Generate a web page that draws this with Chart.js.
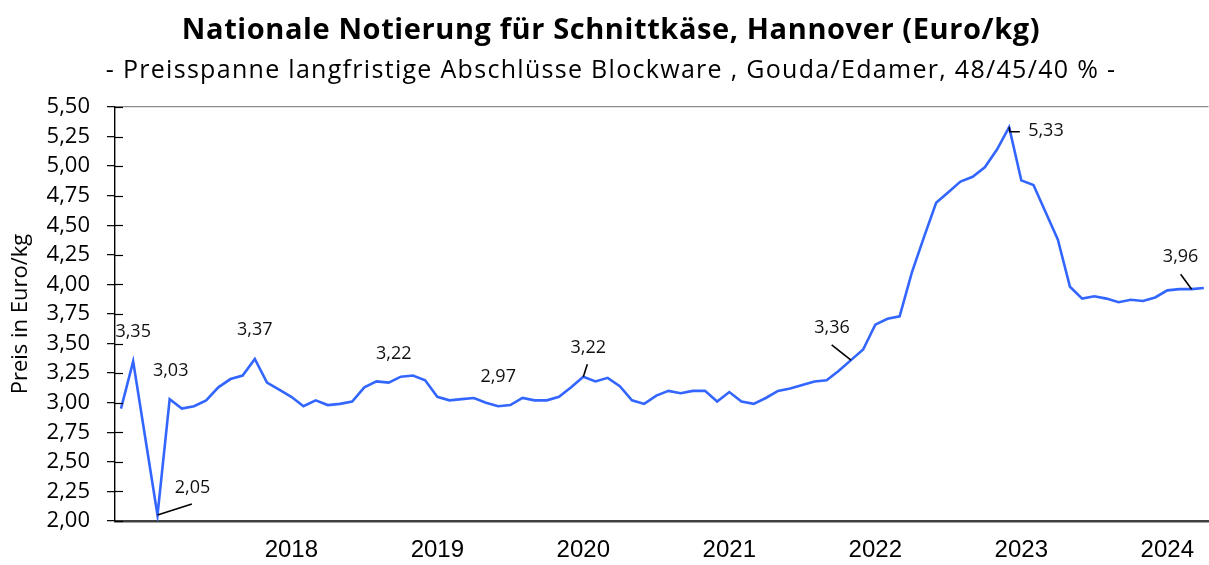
<!DOCTYPE html>
<html>
<head>
<meta charset="utf-8">
<script src="https://cdn.jsdelivr.net/npm/chart.js@4.4.1/dist/chart.umd.min.js"></script>
<style>
  html, body { margin: 0; padding: 0; background: #ffffff; }
  #wrap { width: 1209px; height: 565px; }
</style>
</head>
<body>
<div id="wrap"><canvas id="chart" width="1209" height="565"></canvas></div>
<script>
// Monthly quotation periods, Nov 2016 – Apr 2024
const months = [
  '11/2016','12/2016',
  '01/2017','02/2017','03/2017','04/2017','05/2017','06/2017','07/2017','08/2017','09/2017','10/2017','11/2017','12/2017',
  '01/2018','02/2018','03/2018','04/2018','05/2018','06/2018','07/2018','08/2018','09/2018','10/2018','11/2018','12/2018',
  '01/2019','02/2019','03/2019','04/2019','05/2019','06/2019','07/2019','08/2019','09/2019','10/2019','11/2019','12/2019',
  '01/2020','02/2020','03/2020','04/2020','05/2020','06/2020','07/2020','08/2020','09/2020','10/2020','11/2020','12/2020',
  '01/2021','02/2021','03/2021','04/2021','05/2021','06/2021','07/2021','08/2021','09/2021','10/2021','11/2021','12/2021',
  '01/2022','02/2022','03/2022','04/2022','05/2022','06/2022','07/2022','08/2022','09/2022','10/2022','11/2022','12/2022',
  '01/2023','02/2023','03/2023','04/2023','05/2023','06/2023','07/2023','08/2023','09/2023','10/2023','11/2023','12/2023',
  '01/2024','02/2024','03/2024','04/2024'
];

// Price in Euro/kg per month
const prices = [
  2.95, 3.35,
  2.70, 2.05, 3.03, 2.95, 2.97, 3.02, 3.13, 3.20, 3.23, 3.37, 3.17, 3.11,
  3.05, 2.97, 3.02, 2.98, 2.99, 3.01, 3.13, 3.18, 3.17, 3.22, 3.23, 3.19,
  3.05, 3.02, 3.03, 3.04, 3.00, 2.97, 2.98, 3.04, 3.02, 3.02, 3.05, 3.13,
  3.22, 3.18, 3.21, 3.14, 3.02, 2.99, 3.06, 3.10, 3.08, 3.10, 3.10, 3.01,
  3.09, 3.01, 2.99, 3.04, 3.10, 3.12, 3.15, 3.18, 3.19, 3.27, 3.36, 3.45,
  3.66, 3.71, 3.73, 4.10, 4.40, 4.69, 4.78, 4.87, 4.91, 4.99, 5.14, 5.33,
  4.88, 4.84, 4.61, 4.38, 3.98, 3.88, 3.90, 3.88, 3.85, 3.87, 3.86, 3.89,
  3.95, 3.96, 3.96, 3.97
];

// Years shown on the time axis (placed at their January)
const yearLabels = ['2018', '2019', '2020', '2021', '2022', '2023', '2024'];

// Months that carry a value label
const labelledMonths = [1, 3, 4, 11, 23, 31, 38, 60, 73, 88];

// Value axis ticks
const yTicks = [2.00, 2.25, 2.50, 2.75, 3.00, 3.25, 3.50, 3.75, 4.00, 4.25, 4.50, 4.75, 5.00, 5.25, 5.50];

const titleText = 'Nationale Notierung für Schnittkäse, Hannover (Euro/kg)';
const subtitleText = '- Preisspanne langfristige Abschlüsse Blockware , Gouda/Edamer, 48/45/40 % -';

// Placement of each value label relative to its point, plus optional leader path
const labelStyle = {
  1:  { dx: 0,   dy: -29, align: 'center' },
  3:  { dx: 35,  dy: -27, align: 'center', leader: [[34.4, -11]] },
  4:  { dx: 1,   dy: -28, align: 'center' },
  11: { dx: 0,   dy: -29, align: 'center' },
  23: { dx: -7,  dy: -23, align: 'center' },
  31: { dx: 0,   dy: -29, align: 'center' },
  38: { dx: 5,   dy: -29, align: 'center', leader: [[4, -12.4]] },
  60: { dx: -19, dy: -32, align: 'center', leader: [[-19.3, -15.3]] },
  73: { dx: 19,  dy: 4,   align: 'left', leader: [[0.7, 4.7], [10.7, 4.7]] },
  88: { dx: -11, dy: -32, align: 'center', leader: [[-11, -15]] }
};

const fmt = v => v.toFixed(2).replace('.', ',');
const uiFont = '"Open Sans", "Noto Sans", sans-serif';

// Heading lines above the plot
const headings = {
  id: 'headings',
  beforeDraw(chart) {
    const ctx = chart.ctx;
    const cx = (13 + chart.width) / 2;
    ctx.save();
    ctx.fillStyle = '#000000';
    ctx.textAlign = 'center';
    ctx.textBaseline = 'middle';
    ctx.font = 'bold 29px ' + uiFont;
    if ('letterSpacing' in ctx) ctx.letterSpacing = '0.6px';
    ctx.fillText(titleText, cx, 31);
    ctx.font = '25px ' + uiFont;
    if ('letterSpacing' in ctx) ctx.letterSpacing = '1.3px';
    ctx.fillText(subtitleText, cx, 71);
    if ('letterSpacing' in ctx) ctx.letterSpacing = '0px';
    ctx.restore();
  }
};

const valueLabels = {
  id: 'valueLabels',
  afterDatasetsDraw(chart) {
    const ctx = chart.ctx;
    const meta = chart.getDatasetMeta(0);
    ctx.save();
    ctx.font = '18px ' + uiFont;
    ctx.fillStyle = '#111111';
    ctx.strokeStyle = '#000000';
    ctx.lineWidth = 1.6;
    ctx.textBaseline = 'middle';
    labelledMonths.forEach(i => {
      const pt = meta.data[i];
      const st = labelStyle[i];
      if (st.leader) {
        ctx.beginPath();
        ctx.moveTo(pt.x, pt.y);
        st.leader.forEach(([lx, ly]) => ctx.lineTo(pt.x + lx, pt.y + ly));
        ctx.stroke();
      }
      ctx.textAlign = st.align;
      ctx.fillText(fmt(prices[i]), pt.x + st.dx, pt.y + st.dy);
    });
    ctx.restore();
  }
};

// Tick marks on the value axis cross the axis line
const innerTicks = {
  id: 'innerTicks',
  afterDraw(chart) {
    const y = chart.scales.y;
    const ctx = chart.ctx;
    ctx.save();
    ctx.strokeStyle = '#000000';
    ctx.lineWidth = 1.2;
    y.ticks.forEach(t => {
      const py = Math.round(y.getPixelForValue(t.value)) + 0.5;
      ctx.beginPath();
      ctx.moveTo(chart.chartArea.left, py);
      ctx.lineTo(chart.chartArea.left + 8, py);
      ctx.stroke();
    });
    ctx.restore();
  }
};

new Chart(document.getElementById('chart'), {
  type: 'line',
  data: {
    datasets: [{
      data: prices.map((v, i) => ({ x: i, y: v })),
      borderColor: '#3366ff',
      borderWidth: 2.6,
      pointRadius: 0,
      tension: 0,
      fill: false
    }]
  },
  options: {
    responsive: false,
    animation: false,
    devicePixelRatio: 1,
    layout: { padding: { left: 13, right: 0, top: 107, bottom: 0 } },
    plugins: {
      legend: { display: false },
      tooltip: { enabled: false },
      title: { display: false },
      subtitle: { display: false }
    },
    scales: {
      x: {
        type: 'linear',
        min: -0.493,
        max: 89.386,
        afterBuildTicks: scale => {
          scale.ticks = yearLabels.map(y => ({ value: months.indexOf('01/' + y) }));
        },
        afterFit: scale => { scale.height = 44; },
        ticks: {
          autoSkip: false,
          maxRotation: 0,
          padding: 15,
          color: '#000000',
          font: { family: '"Liberation Sans", Arial, sans-serif', size: 24 },
          callback: v => months[v].slice(3)
        },
        grid: { display: true, drawOnChartArea: false, drawTicks: false },
        border: { display: true, color: '#404040', width: 2.6 }
      },
      y: {
        type: 'linear',
        min: 2,
        max: 5.5,
        afterBuildTicks: scale => { scale.ticks = yTicks.map(v => ({ value: v })); },
        afterFit: scale => { scale.width = 102; },
        ticks: {
          padding: 17,
          color: '#000000',
          font: { family: uiFont, size: 22 },
          callback: v => fmt(v)
        },
        grid: {
          drawOnChartArea: true,
          tickLength: 8,
          tickColor: '#000000',
          tickWidth: 1.2,
          color: ctx => (ctx.tick && ctx.tick.value === 5.5 ? '#8a8a8a' : 'rgba(0,0,0,0)'),
          lineWidth: 1.3
        },
        border: { display: true, color: '#000000', width: 1.4 },
        title: {
          display: true,
          text: 'Preis in Euro/kg',
          color: '#000000',
          font: { family: uiFont, size: 22, lineHeight: 1.2 },
          padding: { top: -5, bottom: 0 }
        }
      }
    }
  },
  plugins: [headings, valueLabels, innerTicks]
});
</script>
</body>
</html>
